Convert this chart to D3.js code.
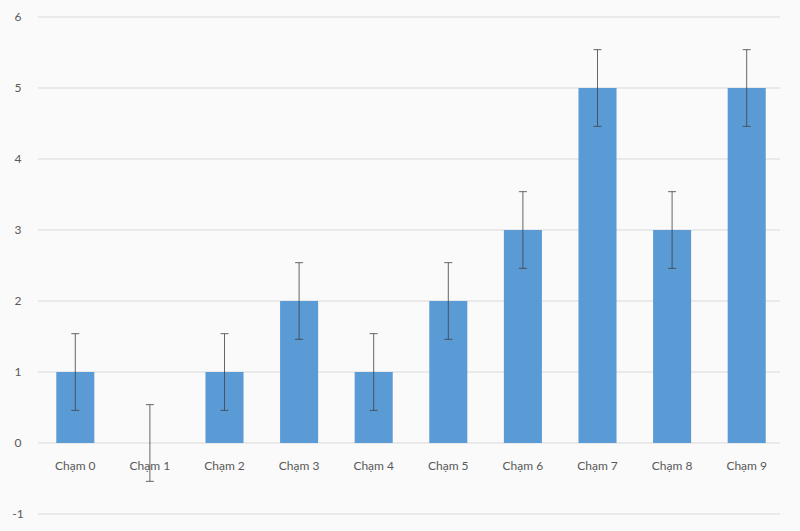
<!DOCTYPE html>
<html><head><meta charset="utf-8">
<script src="https://cdn.jsdelivr.net/npm/d3@7"></script>
<style>body{margin:0;background:#fafafa}</style>
</head><body><div id="chart"></div>
<script>
'use strict'
const categories = ['Chạm 0','Chạm 1','Chạm 2','Chạm 3','Chạm 4','Chạm 5','Chạm 6','Chạm 7','Chạm 8','Chạm 9']
const values = [1, 0, 1, 2, 1, 2, 3, 5, 3, 5]
const errors = [0.54, 0.54, 0.54, 0.54, 0.54, 0.54, 0.54, 0.54, 0.54, 0.54]
const yTicks = [-1, 0, 1, 2, 3, 4, 5, 6]

const svgWidth = 800, svgHeight = 531
const svg = d3.select('#chart').append('svg')
    .attr('width', svgWidth).attr('height', svgHeight)
    .style('font-family', 'Lato, sans-serif')
svg.append('rect').attr('width', svgWidth).attr('height', svgHeight).attr('fill', '#fafafa')

const x = d3.scaleBand().domain(categories).range([38, 784]).paddingInner(0.49).paddingOuter(0.245)
const y = d3.scaleLinear().domain([-1, 6]).range([514, 17])

// grid + y labels
svg.append('g').selectAll('line').data(yTicks).join('line')
    .attr('x1', 38).attr('x2', 780)
    .attr('y1', d => y(d)).attr('y2', d => y(d))
    .attr('stroke', '#d9d9d9').attr('stroke-width', 1)
svg.append('g').selectAll('text').data(yTicks).join('text')
    .attr('x', 18).attr('y', d => y(d) + 4)
    .attr('text-anchor', 'middle').attr('font-size', 12).attr('fill', '#595959')
    .text(d => d)

// bars
svg.append('g').selectAll('rect').data(values).join('rect')
    .attr('x', (d, i) => x(categories[i]))
    .attr('width', x.bandwidth())
    .attr('y', d => y(Math.max(d, 0)))
    .attr('height', d => Math.abs(y(d) - y(0)))
    .attr('fill', '#5b9bd5')

// x labels
svg.append('g').selectAll('text').data(categories).join('text')
    .attr('x', d => x(d) + x.bandwidth() / 2).attr('y', 470)
    .attr('text-anchor', 'middle').attr('font-size', 12).attr('fill', '#595959')
    .text(d => d)

// error bars
const eb = svg.append('g').attr('stroke', '#404040').attr('stroke-width', 0.8)
values.forEach((v, i) => {
    const cx = x(categories[i]) + x.bandwidth() / 2
    eb.append('line').attr('x1', cx).attr('x2', cx).attr('y1', y(v + errors[i])).attr('y2', y(v - errors[i]))
    ;[v + errors[i], v - errors[i]].forEach(e => {
        eb.append('line').attr('x1', cx - 4).attr('x2', cx + 4).attr('y1', y(e)).attr('y2', y(e))
    })
})
</script></body></html>
